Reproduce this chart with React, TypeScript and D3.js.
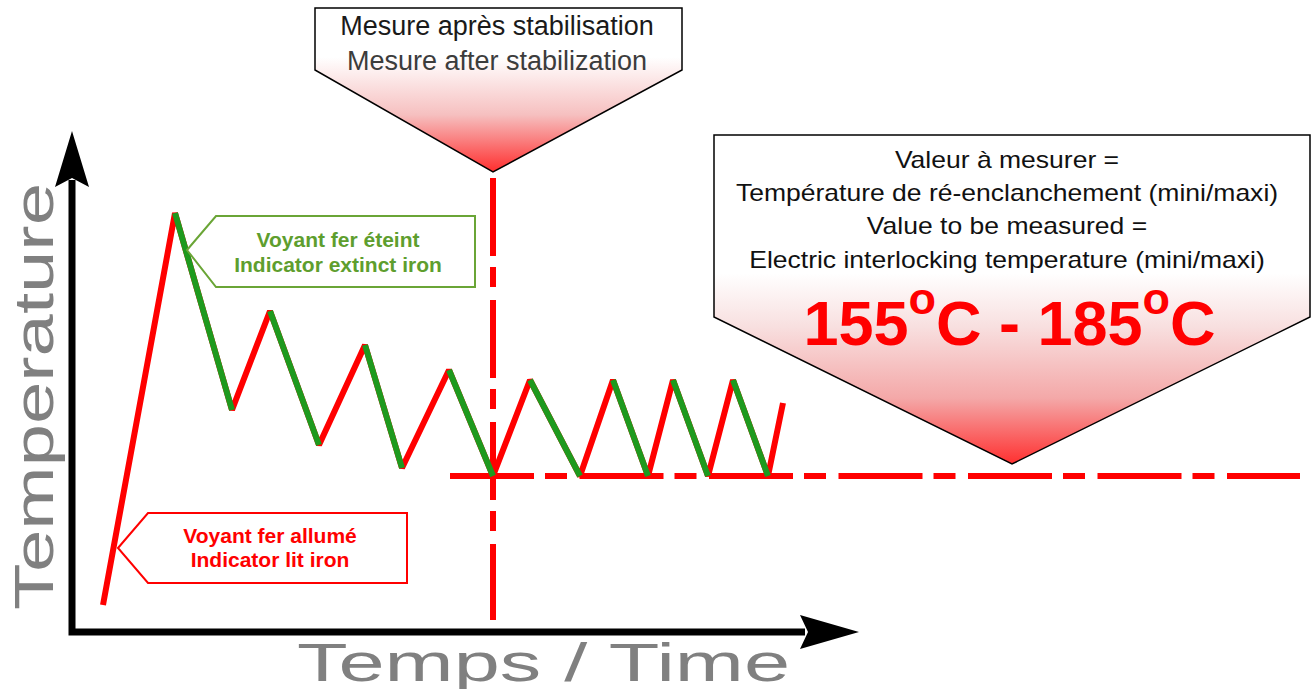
import React from "react";
import * as d3 from "d3";

// ---- Data (arbitrary units: time, temperature) ----
const timePoints = [35, 107, 164, 202, 251, 297, 334, 381, 425, 462, 512, 545, 580, 605, 640, 665, 700, 715];
const temperatures = [28, 420, 223, 322, 188, 288, 165, 263, 157, 253, 157, 253, 157, 253, 157, 253, 157, 230];
const stabilizationTime = 425;
const stabilizationLevel = 157;
const levelLineEnd = 1232;

const topCalloutLines = ["Mesure après stabilisation", "Mesure after stabilization"];
const rightCalloutLines = [
  "Valeur à mesurer =",
  "Température de ré-enclanchement (mini/maxi)",
  "Value to be measured =",
  "Electric interlocking temperature (mini/maxi)",
];
const rangeMin = "155";
const rangeMax = "185";
const offLabel = ["Voyant fer éteint", "Indicator extinct iron"];
const onLabel = ["Voyant fer allumé", "Indicator lit iron"];
const yTitle = "Temperature";
const xTitle = "Temps / Time";

const W = 1316;
const H = 689;
const FONT = "'Liberation Sans', Arial, sans-serif";

export default function App() {
  const x = d3.scaleLinear().domain([0, 800]).range([68, 868]);
  const y = d3.scaleLinear().domain([0, 500]).range([633, 133]);

  const pts: [number, number][] = timePoints.map((t, i) => [x(t), y(temperatures[i])]);
  const line = d3.line();
  const fullPath = line(pts) || "";
  const segments = pts.slice(1).map((p, i) => ({
    a: pts[i],
    b: p,
    rising: temperatures[i + 1] > temperatures[i],
  }));

  const sx = x(stabilizationTime);
  const sy = y(stabilizationLevel);

  return (
    <svg width={W} height={H} style={{ position: "absolute", left: 0, top: 0 }} fontFamily={FONT}>
      <defs>
        <linearGradient id="gTop" x1="0" y1="0" x2="0" y2="1">
          <stop offset="0" stopColor="#ffffff" />
          <stop offset="0.3" stopColor="#ffffff" />
          <stop offset="0.65" stopColor="#f6c0c0" />
          <stop offset="1" stopColor="#ff2e2e" />
        </linearGradient>
        <linearGradient id="gRight" x1="0" y1="0" x2="0" y2="1">
          <stop offset="0" stopColor="#ffffff" />
          <stop offset="0.42" stopColor="#ffffff" />
          <stop offset="0.58" stopColor="#f8e0e0" />
          <stop offset="0.8" stopColor="#f4a8a8" />
          <stop offset="1" stopColor="#ff3030" />
        </linearGradient>
      </defs>
      <rect width={W} height={H} fill="#fff" />

      {/* axis titles */}
      <text
        transform="translate(53,610) rotate(-90)"
        fontSize={55}
        fill="#808080"
        textLength={427}
        lengthAdjust="spacingAndGlyphs"
      >
        {yTitle}
      </text>
      <text x={297} y={681} fontSize={54} fill="#808080" textLength={493} lengthAdjust="spacingAndGlyphs">
        {xTitle}
      </text>

      {/* axes */}
      <path d={`M${x(4)},180 L${x(4)},${y(1)} L805,${y(1)}`} fill="none" stroke="#000" strokeWidth={7} strokeLinejoin="miter" />
      <path d={`M${x(4)},131 L${x(4) + 17},187 L${x(4)},178 L${x(4) - 17},187 Z`} fill="#000" />
      <path d={`M859,${y(1)} L800,${y(1) - 17} L808,${y(1)} L800,${y(1) + 17} Z`} fill="#000" />

      {/* dash-dot reference lines */}
      <line x1={450} x2={levelLineEnd + 68} y1={sy} y2={sy} stroke="#ff0000" strokeWidth={6} strokeDasharray="84 11 22 12.5" />
      <line x1={sx} x2={sx} y1={178} y2={620} stroke="#ff0000" strokeWidth={6} strokeDasharray="78 11 20 13" />

      {/* temperature zigzag */}
      <path d={fullPath} fill="none" stroke="#ff0000" strokeWidth={6} strokeLinejoin="bevel" />
      {segments.filter((s) => !s.rising).map((s, i) => (
        <line key={i} x1={s.a[0]} y1={s.a[1]} x2={s.b[0]} y2={s.b[1]} stroke="#1e9a1e" strokeWidth={6} />
      ))}

      {/* green label */}
      <path d="M187,250 L216,216 L475,216 L475,287 L216,287 Z" fill="#fff" stroke="#6aa536" strokeWidth={2} />
      <text x={338} y={247} textAnchor="middle" fontSize={21} fontWeight="bold" fill="#5e9e2e">{offLabel[0]}</text>
      <text x={338} y={272} textAnchor="middle" fontSize={21} fontWeight="bold" fill="#5e9e2e">{offLabel[1]}</text>

      {/* red label */}
      <path d="M118,548 L148,513 L407,513 L407,583 L148,583 Z" fill="#fff" stroke="#ff0000" strokeWidth={2} />
      <text x={270} y={543} textAnchor="middle" fontSize={21} fontWeight="bold" fill="#ff0000">{onLabel[0]}</text>
      <text x={270} y={567} textAnchor="middle" fontSize={21} fontWeight="bold" fill="#ff0000">{onLabel[1]}</text>

      {/* top callout */}
      <path d={`M315,8 L682,8 L682,70 L${sx},172 L315,70 Z`} fill="url(#gTop)" stroke="#000" strokeWidth={1.5} />
      <text x={497} y={35} textAnchor="middle" fontSize={27} fill="#1a1a1a">{topCalloutLines[0]}</text>
      <text x={497} y={70} textAnchor="middle" fontSize={27} fill="#3c3c3c">{topCalloutLines[1]}</text>

      {/* right callout */}
      <path d="M714,135 L1310,135 L1310,317 L1012,464 L714,317 Z" fill="url(#gRight)" stroke="#000" strokeWidth={1.5} />
      <g transform="translate(1007,0) scale(1.105,1)">
        {rightCalloutLines.map((t, i) => (
          <text key={i} x={0} y={168 + i * 33.2} textAnchor="middle" fontSize={24} fill="#111">{t}</text>
        ))}
      </g>
      <text x={1009.5} y={345} textAnchor="middle" fontSize={63} fontWeight="bold" fill="#ff0000">
        <tspan>{rangeMin}</tspan>
        <tspan fontSize={45} dy={-31}>o</tspan>
        <tspan dy={31}>{`C - ${rangeMax}`}</tspan>
        <tspan fontSize={45} dy={-31}>o</tspan>
        <tspan dy={31}>C</tspan>
      </text>
    </svg>
  );
}
